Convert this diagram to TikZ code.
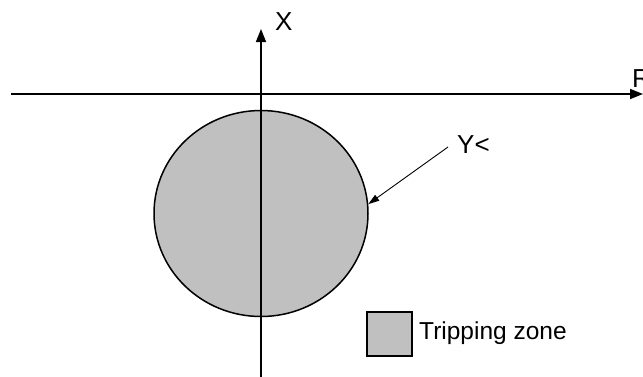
\documentclass[tikz,border=0pt]{standalone}
\usepackage{fontspec}
\setmainfont{Liberation Sans}
\usetikzlibrary{arrows.meta,shapes.geometric}
\definecolor{zonegray}{RGB}{192,192,192}
\begin{document}
\begin{tikzpicture}[x=1pt,y=-1pt,
  axisline/.style={line width=1.6pt,-{Triangle[length=13pt,width=10pt]}},
  pointer/.style={line width=0.9pt,-{Triangle[length=11pt,width=7pt]}},
  lbl/.style={font=\fontsize{26}{30}\selectfont, inner sep=0pt, anchor=base west},
  leglbl/.style={font=\fontsize{24.5}{28}\selectfont, inner sep=0pt, anchor=base west},
  zonefill/.style={draw, line width=1.5pt, fill=zonegray}]
\useasboundingbox (0,0) rectangle (643,376);
\clip (0,0) rectangle (643,376);
% tripping zone
\node[zonefill, ellipse, minimum width=214pt, minimum height=206pt, inner sep=0pt] (zone) at (261,213.5) {};
% axes
\coordinate (r0) at (11,94);
\coordinate (r1) at (643,94);
\coordinate (x0) at (261,380);
\coordinate (x1) at (261,29);
\draw[axisline] (r0) -- (r1);
\draw[axisline] (x0) -- (x1);
% labels
\node[lbl] (xlab) at (275,30) {X};
\node[lbl] (rlab) at (632,87) {R};
\node[lbl] (ylab) at (457,153) {Y<};
\coordinate (ys) at (448,147);
\draw[pointer] (ys) -- (zone.5);
% legend
\node[zonefill, line width=1.2pt, rectangle, minimum width=45pt, minimum height=44pt, inner sep=0pt] (legbox) at (389.5,334) {};
\node[leglbl] (legtext) at (419,339) {Tripping zone};
\end{tikzpicture}
\end{document}
